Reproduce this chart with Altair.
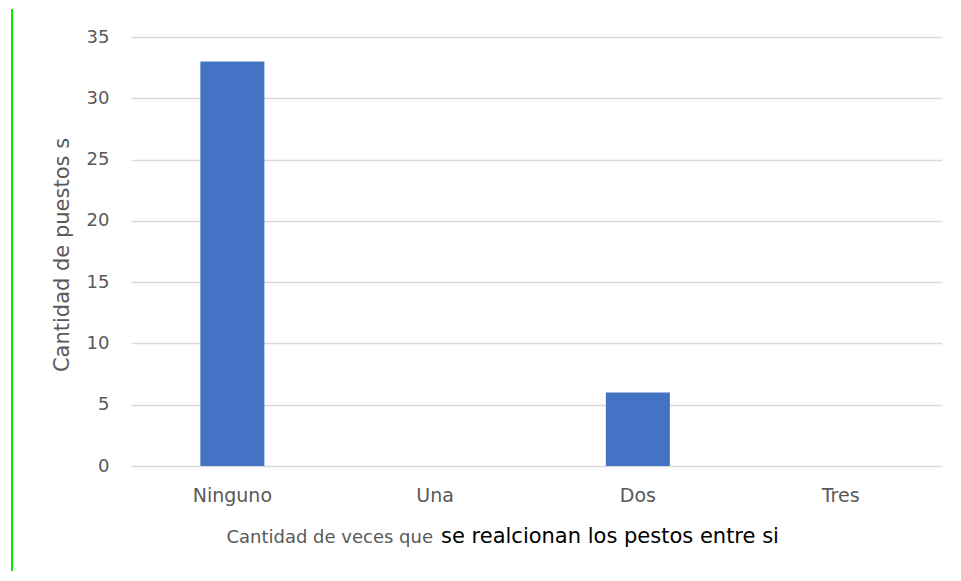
import altair as alt
import pandas as pd

categories = ["Ninguno", "Una", "Dos", "Tres"]
values = [33, 0, 6, 0]
y_ticks = [0, 5, 10, 15, 20, 25, 30, 35]
y_title = "Cantidad de puestos s"
x_title_gray = "Cantidad de veces que"
x_title_black = "se realcionan los pestos entre si"

df = pd.DataFrame({"cat": categories, "val": values})

FONT = "DejaVu Sans"
GRAY = "#595959"
W, H = 811, 429

bars = alt.Chart(df).mark_bar(color="#4472c4", size=64).encode(
    x=alt.X("cat:N", sort=categories, title=None,
            scale=alt.Scale(paddingInner=0, paddingOuter=0),
            axis=alt.Axis(labelAngle=0, labelFont=FONT, labelFontSize=19,
                          labelColor=GRAY, ticks=False, domain=False,
                          labelPadding=20, grid=False)),
    y=alt.Y("val:Q", title=y_title,
            scale=alt.Scale(domain=[0, 35], nice=False),
            axis=alt.Axis(values=y_ticks, labelFont=FONT, labelFontSize=18,
                          labelColor=GRAY, ticks=False, domain=False,
                          labelPadding=22, gridColor="#d9d9d9", gridWidth=1.5,
                          titleFont=FONT, titleFontSize=21, titleFontWeight="normal",
                          titleColor=GRAY, titleX=-69, titleY=H / 2 + 3,
                          titleAngle=-90, titleBaseline="middle", titleAlign="center")),
)

t_gray = alt.Chart(pd.DataFrame({"t": [x_title_gray]})).mark_text(
    align="right", baseline="middle", font=FONT, fontSize=18, color=GRAY
).encode(text="t:N", x=alt.value(302), y=alt.value(501))

t_black = alt.Chart(pd.DataFrame({"t": [x_title_black]})).mark_text(
    align="left", baseline="middle", font=FONT, fontSize=21, color="#000000"
).encode(text="t:N", x=alt.value(310), y=alt.value(500))

green = alt.Chart(pd.DataFrame({"a": [0]})).mark_rule(
    color="#00ee00", strokeWidth=2
).encode(x=alt.value(-119), y=alt.value(-28), y2=alt.value(544))

chart = alt.layer(green, bars, t_gray, t_black).properties(
    width=W, height=H,
    background="white",
    autosize=alt.AutoSizeParams(type="none"),
    padding={"left": 123, "top": 29, "right": 10, "bottom": 105},
).configure_view(strokeWidth=0, stroke=None)

chart.save("out.html", embed_options={"renderer": "svg", "actions": False})
